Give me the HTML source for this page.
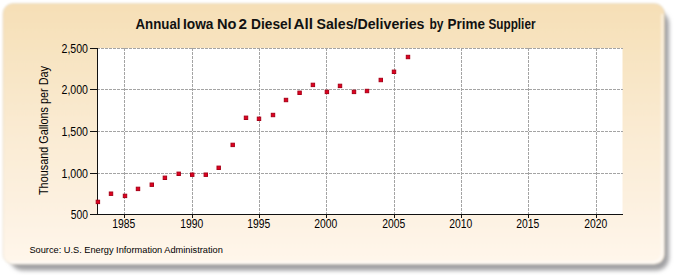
<!DOCTYPE html>
<html><head><meta charset="utf-8">
<style>
html,body{margin:0;padding:0;width:675px;height:275px;overflow:hidden;background:#fff;}
svg{display:block;font-family:"Liberation Sans",sans-serif;}
</style></head><body>
<svg width="675" height="275" viewBox="0 0 675 275">
<defs>
<linearGradient id="bg" x1="0" y1="0" x2="0" y2="1">
<stop offset="0" stop-color="#F6DFB6"/>
<stop offset="0.5" stop-color="#FAEBD3"/>
<stop offset="1" stop-color="#FFF6EB"/>
</linearGradient>
<filter id="sh" x="-5%" y="-10%" width="110%" height="120%">
<feGaussianBlur stdDeviation="2.0"/>
</filter>
<filter id="soft" x="-5%" y="-5%" width="110%" height="110%">
<feGaussianBlur stdDeviation="1.0"/>
</filter>
</defs>
<rect x="10" y="11" width="659" height="259.5" rx="13" fill="#a0a0a3" filter="url(#sh)"/>
<g filter="url(#soft)">
<rect x="3" y="3.5" width="661.5" height="260.8" rx="10" fill="url(#bg)" stroke="#d9cfbd" stroke-width="0.5"/>
<path d="M662.3,14 V251 Q662.3,262.5 651,262.5 H10" fill="none" stroke="#fff" stroke-opacity="0.5" stroke-width="2.5"/>
</g>
<rect x="97" y="48" width="525.5" height="166" fill="#fff"/>
<g stroke="#a4a4a4" stroke-width="1" stroke-dasharray="3,1" shape-rendering="crispEdges">
<line x1="97" y1="48.5" x2="623" y2="48.5"/>
<line x1="97" y1="89.5" x2="623" y2="89.5"/>
<line x1="97" y1="131.5" x2="623" y2="131.5"/>
<line x1="97" y1="173.5" x2="623" y2="173.5"/>
<line x1="124.5" y1="48" x2="124.5" y2="214"/>
<line x1="192.5" y1="48" x2="192.5" y2="214"/>
<line x1="259.5" y1="48" x2="259.5" y2="214"/>
<line x1="326.5" y1="48" x2="326.5" y2="214"/>
<line x1="394.5" y1="48" x2="394.5" y2="214"/>
<line x1="461.5" y1="48" x2="461.5" y2="214"/>
<line x1="528.5" y1="48" x2="528.5" y2="214"/>
<line x1="596.5" y1="48" x2="596.5" y2="214"/>
</g>
<g stroke="#111" stroke-width="1" shape-rendering="crispEdges">
<line x1="97.5" y1="48" x2="97.5" y2="215"/>
<line x1="90" y1="214.5" x2="623" y2="214.5"/>
<line x1="90" y1="48.5" x2="97" y2="48.5"/>
<line x1="90" y1="89.5" x2="97" y2="89.5"/>
<line x1="90" y1="131.5" x2="97" y2="131.5"/>
<line x1="90" y1="173.5" x2="97" y2="173.5"/>
<line x1="90" y1="214.5" x2="97" y2="214.5"/>
<line x1="124.5" y1="214" x2="124.5" y2="217.5"/>
<line x1="192.5" y1="214" x2="192.5" y2="217.5"/>
<line x1="259.5" y1="214" x2="259.5" y2="217.5"/>
<line x1="326.5" y1="214" x2="326.5" y2="217.5"/>
<line x1="394.5" y1="214" x2="394.5" y2="217.5"/>
<line x1="461.5" y1="214" x2="461.5" y2="217.5"/>
<line x1="528.5" y1="214" x2="528.5" y2="217.5"/>
<line x1="596.5" y1="214" x2="596.5" y2="217.5"/>
</g>
<g font-size="12" fill="#000">
<text x="88" y="52.7" text-anchor="end" textLength="26.5" lengthAdjust="spacingAndGlyphs">2,500</text>
<text x="88" y="93.7" text-anchor="end" textLength="26.5" lengthAdjust="spacingAndGlyphs">2,000</text>
<text x="88" y="135.7" text-anchor="end" textLength="26.5" lengthAdjust="spacingAndGlyphs">1,500</text>
<text x="88" y="177.7" text-anchor="end" textLength="26.5" lengthAdjust="spacingAndGlyphs">1,000</text>
<text x="88" y="218.7" text-anchor="end" textLength="17.2" lengthAdjust="spacingAndGlyphs">500</text>
<text x="123.7" y="227.6" text-anchor="middle" textLength="23" lengthAdjust="spacingAndGlyphs">1985</text>
<text x="191.7" y="227.6" text-anchor="middle" textLength="23" lengthAdjust="spacingAndGlyphs">1990</text>
<text x="258.7" y="227.6" text-anchor="middle" textLength="23" lengthAdjust="spacingAndGlyphs">1995</text>
<text x="325.7" y="227.6" text-anchor="middle" textLength="23" lengthAdjust="spacingAndGlyphs">2000</text>
<text x="393.7" y="227.6" text-anchor="middle" textLength="23" lengthAdjust="spacingAndGlyphs">2005</text>
<text x="460.7" y="227.6" text-anchor="middle" textLength="23" lengthAdjust="spacingAndGlyphs">2010</text>
<text x="527.7" y="227.6" text-anchor="middle" textLength="23" lengthAdjust="spacingAndGlyphs">2015</text>
<text x="595.7" y="227.6" text-anchor="middle" textLength="23" lengthAdjust="spacingAndGlyphs">2020</text>
</g>
<g fill="#E2001F" stroke="#A80018" stroke-width="1">
<rect x="96.20" y="200.20" width="3.4" height="3.4"/>
<rect x="109.30" y="192.00" width="3.4" height="3.4"/>
<rect x="123.30" y="194.20" width="3.4" height="3.4"/>
<rect x="136.30" y="187.20" width="3.4" height="3.4"/>
<rect x="150.10" y="183.00" width="3.4" height="3.4"/>
<rect x="163.20" y="176.10" width="3.4" height="3.4"/>
<rect x="177.00" y="172.10" width="3.4" height="3.4"/>
<rect x="190.50" y="173.00" width="3.4" height="3.4"/>
<rect x="204.10" y="173.00" width="3.4" height="3.4"/>
<rect x="217.00" y="166.10" width="3.4" height="3.4"/>
<rect x="231.00" y="143.20" width="3.4" height="3.4"/>
<rect x="244.30" y="116.10" width="3.4" height="3.4"/>
<rect x="257.30" y="117.10" width="3.4" height="3.4"/>
<rect x="271.30" y="113.30" width="3.4" height="3.4"/>
<rect x="284.30" y="98.30" width="3.4" height="3.4"/>
<rect x="297.90" y="91.10" width="3.4" height="3.4"/>
<rect x="311.20" y="83.20" width="3.4" height="3.4"/>
<rect x="325.20" y="90.20" width="3.4" height="3.4"/>
<rect x="338.30" y="84.20" width="3.4" height="3.4"/>
<rect x="352.30" y="90.20" width="3.4" height="3.4"/>
<rect x="365.30" y="89.30" width="3.4" height="3.4"/>
<rect x="379.10" y="78.30" width="3.4" height="3.4"/>
<rect x="392.30" y="70.10" width="3.4" height="3.4"/>
<rect x="406.30" y="55.30" width="3.4" height="3.4"/>
</g>
<g font-size="13.8" font-weight="bold" fill="#111">
<text x="135.50" y="28.7" textLength="45.00" lengthAdjust="spacingAndGlyphs">Annual</text>
<text x="183.00" y="28.7" textLength="30.50" lengthAdjust="spacingAndGlyphs">Iowa</text>
<text x="217.00" y="28.7" textLength="19.50" lengthAdjust="spacingAndGlyphs">No</text>
<text x="238.50" y="28.7" textLength="8.50" lengthAdjust="spacingAndGlyphs">2</text>
<text x="251.00" y="28.7" textLength="40.50" lengthAdjust="spacingAndGlyphs">Diesel</text>
<text x="293.50" y="28.7" textLength="19.50" lengthAdjust="spacingAndGlyphs">All</text>
<text x="316.50" y="28.7" textLength="108.00" lengthAdjust="spacingAndGlyphs">Sales/Deliveries</text>
<text x="429.50" y="28.7" textLength="14.00" lengthAdjust="spacingAndGlyphs">by</text>
<text x="447.50" y="28.7" textLength="37.50" lengthAdjust="spacingAndGlyphs">Prime</text>
<text x="488.50" y="28.7" textLength="47.00" lengthAdjust="spacingAndGlyphs">Supplier</text>
</g>
<text transform="translate(48,195) rotate(-90)" font-size="12" fill="#000" textLength="129" lengthAdjust="spacingAndGlyphs">Thousand Gallons per Day</text>
<text x="29.4" y="252.8" font-size="9.2" fill="#000" textLength="193.4" lengthAdjust="spacingAndGlyphs">Source: U.S. Energy Information Administration</text>
</svg>
</body></html>
